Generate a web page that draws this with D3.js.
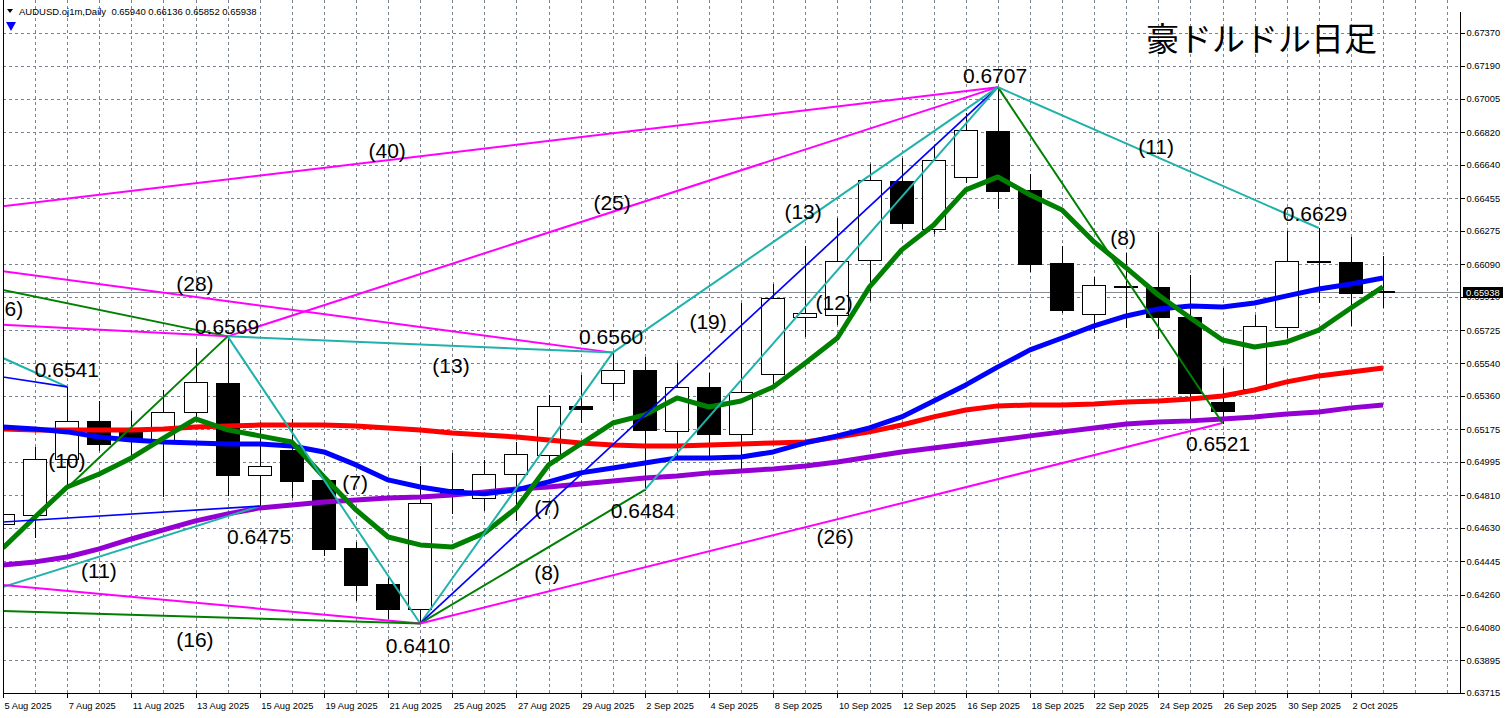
<!DOCTYPE html>
<html><head><meta charset="utf-8">
<script src="https://cdn.jsdelivr.net/npm/d3@7"></script>
<style>body{margin:0;background:#fff;}svg{display:block;}</style>
</head><body>
<svg id="c" width="1506" height="718"></svg>
<script>
// ---------- DATA ----------
const dates = ["5 Aug 2025","6 Aug 2025","7 Aug 2025","8 Aug 2025","11 Aug 2025","12 Aug 2025","13 Aug 2025","14 Aug 2025","15 Aug 2025","18 Aug 2025","19 Aug 2025","20 Aug 2025","21 Aug 2025","22 Aug 2025","25 Aug 2025","26 Aug 2025","27 Aug 2025","28 Aug 2025","29 Aug 2025","1 Sep 2025","2 Sep 2025","3 Sep 2025","4 Sep 2025","5 Sep 2025","8 Sep 2025","9 Sep 2025","10 Sep 2025","11 Sep 2025","12 Sep 2025","15 Sep 2025","16 Sep 2025","17 Sep 2025","18 Sep 2025","19 Sep 2025","22 Sep 2025","23 Sep 2025","24 Sep 2025","25 Sep 2025","26 Sep 2025","29 Sep 2025","30 Sep 2025","1 Oct 2025","2 Oct 2025","3 Oct 2025"];
const open  = [0.64651,0.64701,0.65011,0.65222,0.65183,0.65116,0.65271,0.65432,0.64922,0.65061,0.64895,0.64519,0.64319,0.64180,0.64845,0.64795,0.64928,0.65033,0.65305,0.65432,0.65504,0.65166,0.65410,0.65150,0.65482,0.65797,0.65808,0.66113,0.66551,0.66285,0.66573,0.66827,0.66501,0.66097,0.65814,0.65968,0.65964,0.65797,0.65327,0.65399,0.65742,0.66108,0.66102,0.65940];
const high  = [0.64795,0.65078,0.65410,0.65332,0.65277,0.65393,0.65626,0.65690,0.65216,0.65233,0.64911,0.64552,0.64358,0.64972,0.65044,0.65006,0.65105,0.65365,0.65476,0.65600,0.65576,0.65543,0.65487,0.65875,0.65980,0.66191,0.66346,0.66645,0.66678,0.66750,0.66927,0.67070,0.66589,0.66191,0.66019,0.66152,0.66268,0.66030,0.65515,0.65808,0.66274,0.66290,0.66240,0.66136];
const low   = [0.64618,0.64579,0.64867,0.65061,0.65006,0.64806,0.65227,0.64812,0.64750,0.64801,0.64480,0.64231,0.64131,0.64100,0.64712,0.64729,0.64673,0.64994,0.65216,0.65338,0.64840,0.65022,0.65033,0.64961,0.65432,0.65692,0.65759,0.65892,0.66290,0.66263,0.66545,0.66401,0.66052,0.65825,0.65714,0.65742,0.65681,0.65238,0.65210,0.65390,0.65687,0.65881,0.65753,0.65852];
const close = [0.64706,0.65011,0.65222,0.65094,0.65116,0.65271,0.65438,0.64922,0.64972,0.64889,0.64513,0.64314,0.64180,0.64767,0.64818,0.64928,0.65039,0.65305,0.65288,0.65504,0.65172,0.65410,0.65150,0.65382,0.65903,0.65820,0.66108,0.66556,0.66318,0.66667,0.66833,0.66495,0.66091,0.65836,0.65975,0.65962,0.65797,0.65377,0.65277,0.65748,0.66108,0.66102,0.65930,0.65938];

const maGreen  = [0.64518,0.64690,0.64856,0.64928,0.65017,0.65127,0.65233,0.65172,0.65139,0.65105,0.64911,0.64729,0.64579,0.64535,0.64524,0.64601,0.64740,0.64978,0.65094,0.65210,0.65255,0.65349,0.65299,0.65332,0.65410,0.65543,0.65681,0.65964,0.66169,0.66307,0.66501,0.66573,0.66474,0.66390,0.66213,0.66069,0.65919,0.65792,0.65670,0.65631,0.65659,0.65725,0.65847,0.65964];
const maBlue   = [0.65188,0.65177,0.65161,0.65133,0.65116,0.65105,0.65100,0.65094,0.65094,0.65083,0.65050,0.64978,0.64895,0.64856,0.64828,0.64818,0.64840,0.64884,0.64934,0.64961,0.64989,0.65017,0.65017,0.65022,0.65050,0.65100,0.65139,0.65183,0.65244,0.65332,0.65421,0.65521,0.65615,0.65681,0.65748,0.65803,0.65842,0.65858,0.65853,0.65875,0.65914,0.65952,0.65980,0.66013];
const maRed    = [0.65177,0.65172,0.65172,0.65172,0.65172,0.65177,0.65188,0.65194,0.65199,0.65199,0.65199,0.65194,0.65183,0.65172,0.65155,0.65144,0.65133,0.65116,0.65100,0.65089,0.65083,0.65083,0.65089,0.65094,0.65100,0.65105,0.65133,0.65161,0.65199,0.65244,0.65282,0.65305,0.65310,0.65310,0.65316,0.65327,0.65332,0.65343,0.65360,0.65393,0.65438,0.65471,0.65493,0.65515];
const maPurple = [0.64424,0.64441,0.64468,0.64513,0.64568,0.64618,0.64668,0.64707,0.64740,0.64756,0.64773,0.64784,0.64795,0.64801,0.64812,0.64828,0.64845,0.64856,0.64873,0.64889,0.64906,0.64917,0.64934,0.64945,0.64956,0.64972,0.64994,0.65022,0.65050,0.65072,0.65094,0.65116,0.65139,0.65161,0.65183,0.65205,0.65216,0.65222,0.65233,0.65244,0.65260,0.65271,0.65294,0.65310];

const yTicks = [0.67370,0.67190,0.67005,0.66820,0.66640,0.66455,0.66275,0.66090,0.65910,0.65725,0.65540,0.65360,0.65175,0.64995,0.64810,0.64630,0.64445,0.64260,0.64080,0.63895,0.63715];

// trend lines: kind, from (bar, price) to (bar, price)
const lineKind      = ["mg","mg","mg","gr","mg","cy","cy","cy","bl","gr","cy","bl","mg","gr","cy","bl","gr","mg","cy","cy","gr","cy"];
const lineFromBar   = [-8,7,-8,-8,0,7,7,0,0,-2,-2,0,0,-2,13,13,13,13,19,20,31,31];
const lineFromPrice = [0.6624,0.6569,0.6624,0.6624,0.65754,0.6569,0.6569,0.65570,0.65465,0.6418,0.6419,0.64662,0.64313,0.6418,0.6410,0.6410,0.6410,0.6410,0.6560,0.6484,0.6707,0.6707];
const lineToBar     = [31,31,19,7,7,19,13,2,2,7,8,8,13,13,19,31,20,38,31,31,38,41];
const lineToPrice   = [0.6707,0.6707,0.6560,0.6569,0.6569,0.6560,0.6410,0.6541,0.6541,0.6569,0.6475,0.6475,0.6410,0.6410,0.6560,0.6707,0.6484,0.6521,0.6707,0.6707,0.6521,0.6629];

// annotation texts at (bar, price) centres
const labelText  = ["0.6707","(40)","(25)","(13)","(11)","0.6629","(8)","(28)","(6)","0.6569","0.6560","(19)","(12)","(13)","0.6541","(10)","(7)","0.6521","(7)","0.6484","0.6475","(26)","(11)","(8)","(16)","0.6410"];
const labelBar   = [30.91,11.97,18.98,24.93,35.93,40.88,34.90,5.98,0.23,6.98,18.95,21.97,25.90,13.96,1.99,1.99,10.97,37.86,16.95,19.94,7.98,25.93,2.99,16.95,5.98,12.93];
const labelPrice = [0.67132,0.66717,0.66434,0.66384,0.66744,0.66373,0.66235,0.65980,0.65847,0.65747,0.65692,0.65770,0.65875,0.65526,0.65509,0.65000,0.64883,0.65094,0.64745,0.64728,0.64584,0.64579,0.64391,0.64385,0.64014,0.63976];

const symbolText = "AUDUSD.oj1m,Daily  0.65940 0.66136 0.65852 0.65938";
const titleText = "豪ドルドル日足";
const lastPrice = 0.65938;

// ---------- RENDER ----------
const W = 1506, H = 718;
const L = 3, R = 1460, T = 0, B = 693;
const kindColor = {mg:"#ff00ff", cy:"#20b2aa", gr:"#008000", bl:"#0000ff"};
const gridColor = "#7a8490";
const fontSmall = "Liberation Sans, Arial, sans-serif";
const smallSize = 9.3;
const fontLabel = "Liberation Sans, Arial, sans-serif";

const x = d3.scaleLinear().domain([0, 43]).range([3, 1383]);
const y = d3.scaleLinear().domain([0.63715, 0.67370]).range([693, 33]);

const svg = d3.select("#c");
svg.append("rect").attr("width", W).attr("height", H).attr("fill", "#fff");
svg.append("defs").append("clipPath").attr("id", "plot")
  .append("rect").attr("x", L).attr("y", T).attr("width", R - L).attr("height", B - T);

// grid
const grid = svg.append("g").attr("shape-rendering", "crispEdges");
yTicks.forEach(t => {
  const yy = Math.round(y(t)) + 0.5;
  grid.append("line").attr("x1", L).attr("x2", R).attr("y1", yy).attr("y2", yy)
    .attr("stroke", gridColor).attr("stroke-dasharray", "3,3");
});
d3.range(1, 46).forEach(i => {
  const xx = Math.round(x(i)) + 0.5;
  if (xx >= R) return;
  grid.append("line").attr("x1", xx).attr("x2", xx).attr("y1", T).attr("y2", B)
    .attr("stroke", gridColor).attr("stroke-dasharray", "3,3");
});

// price line
const pl = Math.round(y(lastPrice)) + 0.5;
svg.append("line").attr("x1", L).attr("x2", R).attr("y1", pl).attr("y2", pl)
  .attr("stroke", "#858b92").attr("shape-rendering", "crispEdges");

const plot = svg.append("g").attr("clip-path", "url(#plot)");

// candles
const cg = plot.append("g").attr("shape-rendering", "crispEdges");
dates.forEach((d, i) => {
  const cx = Math.round(x(i));
  cg.append("line").attr("x1", cx + 0.5).attr("x2", cx + 0.5)
    .attr("y1", Math.round(y(high[i]))).attr("y2", Math.round(y(low[i])) + 1)
    .attr("stroke", "#000");
  const top = Math.round(y(Math.max(open[i], close[i])));
  const bot = Math.round(y(Math.min(open[i], close[i])));
  const bear = close[i] < open[i];
  if (bot - top < 1) {
    cg.append("line").attr("x1", cx - 12).attr("x2", cx + 12)
      .attr("y1", top + 0.5).attr("y2", top + 0.5).attr("stroke", "#000");
  } else {
    cg.append("rect").attr("x", cx - 11.5).attr("y", top + 0.5)
      .attr("width", 23).attr("height", bot - top)
      .attr("fill", bear ? "#000" : "#fff").attr("stroke", "#000");
  }
});

// moving averages
const maLine = d3.line().x((v, i) => x(i)).y(v => y(v));
[[maPurple, "#9400d3"], [maRed, "#ff0000"], [maBlue, "#0000ff"], [maGreen, "#008000"]].forEach(([arr, col]) => {
  plot.append("path").attr("d", maLine(arr)).attr("fill", "none")
    .attr("stroke", col).attr("stroke-width", 5).attr("stroke-linejoin", "round");
});

// trend lines
lineKind.forEach((k, j) => {
  plot.append("line")
    .attr("x1", x(lineFromBar[j])).attr("y1", y(lineFromPrice[j]))
    .attr("x2", x(lineToBar[j])).attr("y2", y(lineToPrice[j]))
    .attr("stroke", kindColor[k]).attr("stroke-width", k === "bl" ? 1.7 : 2);
});

// annotation labels
const lg = plot.append("g").attr("font-family", fontLabel).attr("font-size", "21px").attr("fill", "#000");
labelText.forEach((t, j) => {
  lg.append("text").attr("x", x(labelBar[j])).attr("y", y(labelPrice[j]) + 7.5)
    .attr("text-anchor", "middle").text(t);
});

// frame
const fr = svg.append("g").attr("stroke", "#000").attr("shape-rendering", "crispEdges");
fr.append("line").attr("x1", L + 0.5).attr("x2", L + 0.5).attr("y1", T).attr("y2", B + 1);
fr.append("line").attr("x1", L).attr("x2", R + 1).attr("y1", B + 0.5).attr("y2", B + 0.5);
fr.append("line").attr("x1", R + 0.5).attr("x2", R + 0.5).attr("y1", 12).attr("y2", B + 1);

// right axis
const ya = svg.append("g").attr("transform", `translate(${R + 0.5},0)`)
  .call(d3.axisRight(y).tickValues(yTicks).tickFormat(d3.format(".5f")).tickSize(4));
ya.select(".domain").remove();
ya.attr("font-family", fontSmall).attr("font-size", smallSize);
ya.selectAll("line").attr("stroke", "#000").attr("shape-rendering", "crispEdges");
ya.selectAll("text").attr("fill", "#000").attr("x", 6);

// bottom axis
const xa = svg.append("g").attr("transform", `translate(0,${B + 0.5})`)
  .call(d3.axisBottom(x).tickValues(d3.range(0, dates.length, 2)).tickFormat(i => dates[i]).tickSize(4));
xa.select(".domain").remove();
xa.attr("font-family", fontSmall).attr("font-size", smallSize);
xa.selectAll("line").attr("stroke", "#000").attr("shape-rendering", "crispEdges");
xa.selectAll("text").attr("fill", "#000").attr("text-anchor", "start").attr("x", 1).attr("y", 9);

// last price box
const lb = svg.append("g");
lb.append("rect").attr("x", R + 3).attr("y", pl - 5.5).attr("width", 40).attr("height", 11).attr("fill", "#000");
lb.append("text").attr("x", R + 6).attr("y", pl + 3.5).attr("font-family", fontSmall).attr("font-size", smallSize)
  .attr("fill", "#fff").text(d3.format(".5f")(lastPrice));

// header
svg.append("path").attr("d", "M7,9 L13,9 L10,13 Z").attr("fill", "#000");
svg.append("text").attr("x", 19).attr("y", 14.5).attr("font-family", fontSmall).attr("font-size", "9.5px")
  .attr("fill", "#000").attr("xml:space", "preserve").style("white-space", "pre").text(symbolText);
svg.append("path").attr("d", "M6,22 L16,22 L11,31 Z").attr("fill", "#0000ff");

// title
svg.append("text").attr("x", 1146).attr("y", 51).attr("font-family", "Noto Sans CJK JP, sans-serif")
  .attr("font-size", "33px").attr("fill", "#000").text(titleText);
</script>
</body></html>
